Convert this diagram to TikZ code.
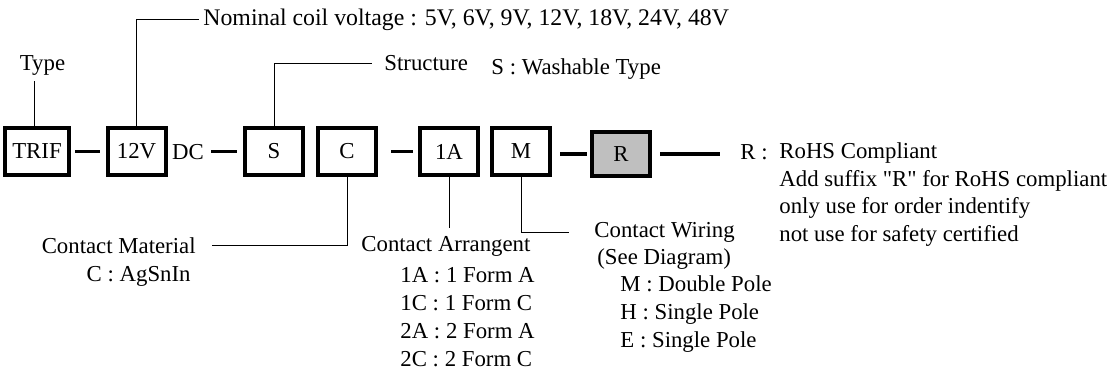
\documentclass[tikz,border=0pt]{standalone}
\usepackage{fontspec}
\setmainfont{Liberation Serif}
\newfontfamily\quotefont{Liberation Serif}[Ligatures=TeXOff]
\newcommand{\dq}{{\quotefont"}}

\begin{document}
\begin{tikzpicture}[x=0.5pt, y=-0.5pt,
  every node/.style={font=\fontsize{11.4}{14}\selectfont, inner sep=1pt},
  code/.style={draw, line width=2pt, minimum width=29pt, minimum height=23.5pt, inner sep=0pt},
  linkbar/.style={line width=1.8pt},
  lead/.style={line width=0.5pt}]
\useasboundingbox (0,0) rectangle (1114,374);
% code boxes
\node[code, minimum width=32pt] (trif) at (37,151.5) {TRIF};
\node[code] (volts) at (136.5,151.5) {12V};
\node[anchor=base] (dc) at (188,160) {DC};
\node[code] (s) at (274,151.5) {S};
\node[code] (c) at (347,151.5) {C};
\node[code] (form) at (449,151.5) {1A};
\node[code] (m) at (521,151.5) {M};
\node[code, fill=black!25, minimum height=22pt] (r) at (621,154) {R};
% short bars between the boxes
\draw[linkbar, shorten <=2pt, shorten >=2.75pt] (trif) -- (volts);
\draw[linkbar, shorten <=2.5pt, shorten >=3pt] (dc.east |- s) -- (s);
\draw[linkbar, shorten <=6.5pt, shorten >=2.5pt] (c) -- (form);
\draw[linkbar, shorten <=4pt, shorten >=1.5pt] (m.east |- r) -- (r);
% labels (multi-line ones sit on their last baseline)
\node[anchor=base] (type) at (42.5,70.5) {Type};
\node[anchor=base west, font=\fontsize{11.9}{14}\selectfont] (volt) at (201,25.5) {Nominal coil voltage : 5V, 6V, 9V, 12V, 18V, 24V, 48V};
\node[anchor=base west] (struct) at (382,70.5) {Structure};
\node[anchor=base west] (wash) at (489,74.5) {S : Washable Type};
\node[anchor=base east] (mat) at (198,253.5) {Contact Material};
\node[anchor=base east] (matlist) at (193,281.5) {C : AgSnIn};
\node[anchor=base west] (arr) at (359,251.5) {Contact Arrangent};
\node[anchor=base west, align=left] (arrlist) at (398,366) {1A : 1 Form A\\1C : 1 Form C\\2A : 2 Form A\\2C : 2 Form C};
\node[anchor=base west] (wir) at (592,237.5) {Contact Wiring};
\node[anchor=base west] (see) at (595,264.5) {(See Diagram)};
\node[anchor=base west, align=left] (wirlist) at (618,347) {M : Double Pole\\H : Single Pole\\E : Single Pole};
\node[anchor=west] (rkey) at (738,152) {R :};
\node[anchor=base west, align=left] (rohs) at (777,242) {RoHS Compliant\\Add suffix \dq R\dq{} for RoHS compliant\\only use for order indentify\\not use for safety certified};
\draw[linkbar, shorten <=4pt, shorten >=9pt] (r) -- (r -| rkey.west);
% leader lines
\draw[lead, shorten >=1.75pt] ([xshift=-1.5pt]trif.north) -- ([xshift=-1.5pt]trif.north |- type.south);
\draw[lead, shorten >=1pt] (volts.north) |- (volt.west);
\draw[lead, shorten >=5pt] (s.north) |- (struct.west);
\draw[lead, shorten >=7pt] (c.south) |- (mat.east);
\draw[lead, shorten >=3pt] (form.south) -- (form.south |- arr.north);
\draw[lead, shorten >=11.5pt] (m.south) |- (wir.west);
\end{tikzpicture}
\end{document}
